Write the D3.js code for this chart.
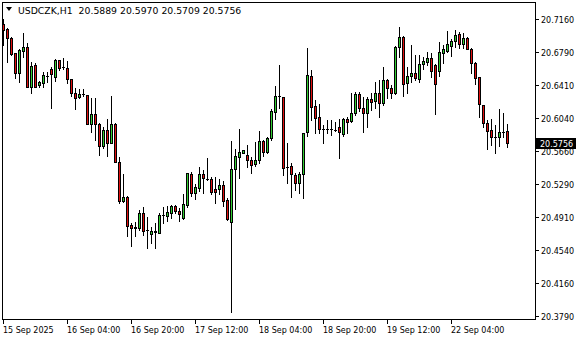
<!DOCTYPE html>
<html>
<head>
<meta charset="utf-8">
<script src="https://cdn.jsdelivr.net/npm/d3@7"></script>
<style>
  body { margin: 0; background: #ffffff; }
  svg { display: block; font-family: "DejaVu Sans", Verdana, sans-serif; font-size: 8px; }
  .title { font-size: 9.3px; }
</style>
</head>
<body>
<svg id="chart" width="580" height="340"></svg>
<script>
// USDCZK H1 bars, first bar 15 Sep 12:00
const opens = [
  20.7103, 20.7043, 20.6941, 20.6771, 20.6544, 20.6800, 20.6839, 20.6385, 20.6638, 20.6408,
  20.6437, 20.6517, 20.6589, 20.6498, 20.6695, 20.6612, 20.6601, 20.6476, 20.6317, 20.6272,
  20.6306, 20.6298, 20.5965, 20.6082, 20.5965, 20.5719, 20.5900, 20.5756, 20.5965, 20.5543,
  20.5095, 20.5144, 20.4823, 20.4796, 20.4792, 20.4955, 20.4766, 20.4724, 20.4747, 20.4735,
  20.4936, 20.4928, 20.4962, 20.5038, 20.4981, 20.4905, 20.5050, 20.5401, 20.5189, 20.5246,
  20.5401, 20.5348, 20.5345, 20.5231, 20.5234, 20.5276, 20.5106, 20.4860, 20.5455, 20.5598,
  20.5636, 20.5617, 20.5560, 20.5518, 20.5560, 20.5776, 20.5654, 20.5806, 20.6101, 20.6286,
  20.6272, 20.5484, 20.5492, 20.5390, 20.5296, 20.5398, 20.5874, 20.6513, 20.6173, 20.6045,
  20.5915, 20.5915, 20.5915, 20.5900, 20.5938, 20.5852, 20.6025, 20.6003, 20.6090, 20.6306,
  20.6154, 20.6097, 20.6249, 20.6230, 20.6317, 20.6210, 20.6468, 20.6374, 20.6324, 20.6839,
  20.6959, 20.6437, 20.6513, 20.6551, 20.6483, 20.6646, 20.6676, 20.6714, 20.6638, 20.6573,
  20.6778, 20.6800, 20.6857, 20.6914, 20.6990, 20.6876, 20.6948, 20.6816, 20.6664, 20.6498,
  20.6184, 20.5977, 20.5900, 20.5824, 20.5818, 20.5881, 20.5889
];
const highs = [
  20.7157, 20.7054, 20.6952, 20.6778, 20.6816, 20.7005, 20.6884, 20.6676, 20.6657, 20.6460,
  20.6559, 20.6562, 20.6612, 20.6703, 20.6697, 20.6714, 20.6687, 20.6478, 20.6374, 20.6362,
  20.6362, 20.6300, 20.6260, 20.6260, 20.5983, 20.5938, 20.6029, 20.6286, 20.5977, 20.5598,
  20.5401, 20.5146, 20.4849, 20.4860, 20.4993, 20.5030, 20.4910, 20.4803, 20.4849, 20.4955,
  20.5023, 20.5038, 20.5050, 20.5050, 20.5012, 20.5174, 20.5416, 20.5427, 20.5284, 20.5484,
  20.5447, 20.5579, 20.5371, 20.5364, 20.5341, 20.5322, 20.5126, 20.5776, 20.5688, 20.5908,
  20.5676, 20.5730, 20.5591, 20.5768, 20.5889, 20.5787, 20.5824, 20.6135, 20.6400, 20.6638,
  20.6278, 20.5750, 20.5523, 20.5409, 20.5427, 20.5870, 20.6828, 20.6581, 20.6241, 20.6196,
  20.5957, 20.6014, 20.6014, 20.5995, 20.6022, 20.6033, 20.6045, 20.6317, 20.6335, 20.6335,
  20.6278, 20.6278, 20.6317, 20.6449, 20.6468, 20.6612, 20.6476, 20.6411, 20.6854, 20.7073,
  20.6967, 20.6619, 20.6865, 20.6752, 20.6752, 20.6725, 20.6782, 20.6778, 20.6649, 20.6902,
  20.6865, 20.7024, 20.6930, 20.7035, 20.7009, 20.6998, 20.6959, 20.6834, 20.6676, 20.6505,
  20.6186, 20.6014, 20.6022, 20.5957, 20.6135, 20.6090, 20.5970
];
const lows = [
  20.6868, 20.6676, 20.6752, 20.6494, 20.6449, 20.6732, 20.6383, 20.6317, 20.6385, 20.6385,
  20.6392, 20.6449, 20.6154, 20.6460, 20.6581, 20.6589, 20.6437, 20.6286, 20.6135, 20.6260,
  20.6286, 20.5963, 20.5881, 20.5787, 20.5617, 20.5693, 20.5606, 20.5750, 20.5541, 20.5076,
  20.5087, 20.4698, 20.4588, 20.4698, 20.4766, 20.4709, 20.4565, 20.4622, 20.4558, 20.4728,
  20.4849, 20.4871, 20.4905, 20.4955, 20.4871, 20.4887, 20.5030, 20.5152, 20.5121, 20.5212,
  20.5189, 20.5333, 20.5174, 20.5076, 20.5174, 20.5038, 20.4879, 20.3839, 20.5001, 20.5352,
  20.5634, 20.5484, 20.5409, 20.5492, 20.5526, 20.5606, 20.5643, 20.5787, 20.6022, 20.6147,
  20.5390, 20.5296, 20.5144, 20.5220, 20.5182, 20.5126, 20.5836, 20.6014, 20.5863, 20.5863,
  20.5756, 20.5863, 20.5844, 20.5892, 20.5586, 20.5832, 20.5863, 20.5991, 20.6071, 20.6116,
  20.5881, 20.5938, 20.6127, 20.6147, 20.6051, 20.6184, 20.6260, 20.6260, 20.6309, 20.6732,
  20.6286, 20.6317, 20.6449, 20.6468, 20.6449, 20.6589, 20.6638, 20.6498, 20.6082, 20.6513,
  20.6664, 20.6782, 20.6744, 20.6839, 20.6831, 20.6828, 20.6816, 20.6551, 20.6422, 20.6051,
  20.5931, 20.5682, 20.5730, 20.5643, 20.5719, 20.5818, 20.5709
];
const closes = [
  20.7035, 20.6941, 20.6759, 20.6544, 20.6808, 20.6839, 20.6385, 20.6627, 20.6392, 20.6445,
  20.6521, 20.6515, 20.6536, 20.6695, 20.6601, 20.6610, 20.6476, 20.6317, 20.6267, 20.6309,
  20.6304, 20.5965, 20.6082, 20.5965, 20.5719, 20.5900, 20.5756, 20.5965, 20.5543, 20.5095,
  20.5144, 20.4811, 20.4785, 20.4794, 20.4955, 20.4758, 20.4764, 20.4754, 20.4749, 20.4936,
  20.4934, 20.4967, 20.5038, 20.4985, 20.4944, 20.5057, 20.5409, 20.5189, 20.5250, 20.5401,
  20.5359, 20.5346, 20.5200, 20.5200, 20.5276, 20.5098, 20.4887, 20.5455, 20.5606, 20.5654,
  20.5674, 20.5560, 20.5500, 20.5560, 20.5772, 20.5654, 20.5806, 20.6116, 20.6286, 20.6284,
  20.5466, 20.5482, 20.5398, 20.5296, 20.5398, 20.5863, 20.6525, 20.6165, 20.6040, 20.5915,
  20.5913, 20.5917, 20.5913, 20.5898, 20.5881, 20.6022, 20.5995, 20.6090, 20.6306, 20.6154,
  20.6097, 20.6249, 20.6222, 20.6317, 20.6203, 20.6468, 20.6374, 20.6324, 20.6846, 20.6959,
  20.6422, 20.6513, 20.6551, 20.6487, 20.6649, 20.6683, 20.6721, 20.6570, 20.6419, 20.6782,
  20.6816, 20.6873, 20.6914, 20.6978, 20.6876, 20.6948, 20.6818, 20.6664, 20.6487, 20.6192,
  20.5977, 20.5892, 20.5824, 20.5822, 20.5881, 20.5883, 20.5756
];

const priceTicks = [20.7160, 20.6790, 20.6410, 20.6040, 20.5660, 20.5290, 20.4910, 20.4540, 20.4160, 20.3790];
const timeTickIndex = [0, 16, 32, 48, 64, 80, 96, 112];
const timeTickLabels = ["15 Sep 2025", "16 Sep 04:00", "16 Sep 20:00", "17 Sep 12:00",
                        "18 Sep 04:00", "18 Sep 20:00", "19 Sep 12:00", "22 Sep 04:00"];
const symbol = "USDCZK,H1";

const bullColor = "#32cd32";
const bearColor = "#e01010";

const svg = d3.select("#chart");
const frameL = 2, frameR = 535, frameT = 2, frameB = 319;

const bars = d3.range(opens.length);
// 4px per bar, bar 0 centred on the left border
const x = d3.scaleBand().domain(bars).range([1, 1 + 4 * bars.length]);
const y = d3.scaleLinear().domain([20.379, 20.716]).range([316, 19]);

const col = i => Math.floor(x(i) + x.bandwidth() / 2);
const row = v => Math.round(y(v));
const bodyTop = i => row(Math.max(opens[i], closes[i]));
const bodyBot = i => row(Math.min(opens[i], closes[i]));

// plot area
svg.append("defs").append("clipPath").attr("id", "plot")
  .append("rect").attr("x", frameL + 1).attr("y", frameT + 1)
  .attr("width", frameR - frameL - 1).attr("height", frameB - frameT - 1);

const g = svg.append("g").attr("clip-path", "url(#plot)").attr("shape-rendering", "crispEdges");

const candle = g.selectAll("g.c").data(bars).join("g").attr("class", "c");

// wicks
candle.append("rect")
  .attr("x", i => col(i))
  .attr("y", i => row(highs[i]))
  .attr("width", 1)
  .attr("height", i => row(lows[i]) - row(highs[i]) + 1)
  .attr("fill", "#000");

// body outline
candle.append("rect")
  .attr("x", i => col(i) - 1)
  .attr("y", bodyTop)
  .attr("width", 3)
  .attr("height", i => bodyBot(i) - bodyTop(i) + 1)
  .attr("fill", "#000");

// body fill
candle.filter(i => bodyBot(i) - bodyTop(i) > 1)
  .append("rect")
  .attr("x", i => col(i))
  .attr("y", i => bodyTop(i) + 1)
  .attr("width", 1)
  .attr("height", i => bodyBot(i) - bodyTop(i) - 1)
  .attr("fill", i => closes[i] >= opens[i] ? bullColor : bearColor);

// frame
svg.append("rect")
  .attr("x", frameL + 0.5).attr("y", frameT + 0.5)
  .attr("width", frameR - frameL).attr("height", frameB - frameT)
  .attr("fill", "none").attr("stroke", "#000").attr("shape-rendering", "crispEdges");

// price axis
const py = svg.append("g");
py.selectAll("line").data(priceTicks).join("line")
  .attr("x1", frameR).attr("x2", frameR + 4)
  .attr("y1", d => row(d) + 0.5).attr("y2", d => row(d) + 0.5)
  .attr("stroke", "#000").attr("shape-rendering", "crispEdges");
py.selectAll("text").data(priceTicks).join("text")
  .attr("x", frameR + 6).attr("y", d => row(d) + 3.5)
  .attr("fill", "#000")
  .text(d => d.toFixed(4));

// current price marker
const last = closes[closes.length - 1];
svg.append("rect")
  .attr("x", frameR + 1).attr("y", row(last) - 5)
  .attr("width", 40).attr("height", 11).attr("fill", "#000");
svg.append("text")
  .attr("x", frameR + 5).attr("y", row(last) + 3.5)
  .attr("fill", "#fff")
  .text(last.toFixed(4));

// time axis
const tx = svg.append("g");
tx.selectAll("line").data(timeTickIndex).join("line")
  .attr("x1", i => col(i) + 0.5).attr("x2", i => col(i) + 0.5)
  .attr("y1", frameB).attr("y2", frameB + 5)
  .attr("stroke", "#000").attr("shape-rendering", "crispEdges");
tx.selectAll("text").data(timeTickIndex).join("text")
  .attr("x", i => col(i))
  .attr("y", frameB + 14)
  .attr("fill", "#000")
  .text((d, k) => timeTickLabels[k]);

// title line
const o = opens.length - 1;
svg.append("path").attr("d", "M6,7 L12,7 L9,11 Z").attr("fill", "#000");
svg.append("text")
  .attr("class", "title")
  .attr("x", 18).attr("y", 14)
  .attr("fill", "#000")
  .attr("xml:space", "preserve")
  .text(`${symbol}  ${opens[o].toFixed(4)} ${highs[o].toFixed(4)} ${lows[o].toFixed(4)} ${closes[o].toFixed(4)}`);
</script>
</body>
</html>
